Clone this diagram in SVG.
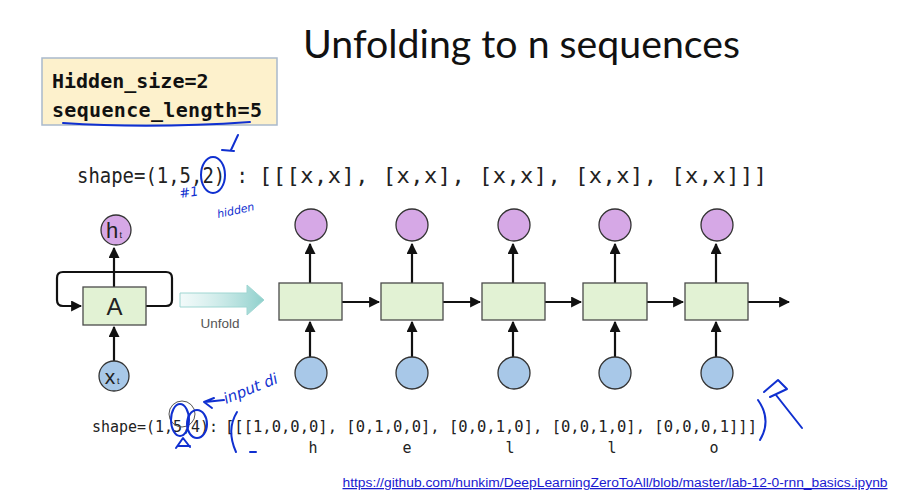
<svg xmlns="http://www.w3.org/2000/svg" width="901" height="497" viewBox="0 0 901 497">
<defs>
<style>
.box{fill:#e2f2d4;stroke:#4a4a4a;stroke-width:1.3}
.hc{fill:#d6a8e6;stroke:#333;stroke-width:1.3}
.xc{fill:#a8c8e8;stroke:#333;stroke-width:1.3}
.ln{stroke:#111;stroke-width:2.2;fill:none}
.mono{font-family:"DejaVu Sans Mono","Liberation Mono",monospace;fill:#222}
.ink{stroke:#1030d0;stroke-width:2;fill:none;stroke-linecap:round;stroke-linejoin:round}
.inkt{font-family:"DejaVu Sans","Liberation Sans",sans-serif;font-style:italic;fill:#1030d0}
</style>
<marker id="ah" viewBox="0 0 10 10" refX="9" refY="5" markerWidth="5" markerHeight="5" orient="auto"><path d="M0,0 L10,5 L0,10 z" fill="#111"/></marker>
<linearGradient id="ug" x1="0" x2="1" y1="0" y2="0"><stop offset="0" stop-color="#bfe6e4" stop-opacity="0.2"/><stop offset="1" stop-color="#8fd0cc"/></linearGradient>
</defs>
<rect width="901" height="497" fill="#fff"/>

<text x="303" y="58" font-family="Lato,'Open Sans',sans-serif" font-size="38" fill="#111" textLength="437" lengthAdjust="spacingAndGlyphs">Unfolding to n sequences</text>

<g id="params">
<rect x="42" y="58" width="235" height="67" fill="#fdf1cc" stroke="#a9b9cc" stroke-width="1.5"/>
<text x="52" y="88" font-family="'DejaVu Sans Mono',monospace" font-weight="bold" font-size="20" fill="#111">Hidden_size=2</text>
<text x="52" y="117" font-family="'DejaVu Sans Mono',monospace" font-weight="bold" font-size="20" fill="#111" textLength="210">sequence_length=5</text>
</g>

<g class="mono" font-size="22">
<text x="77" y="183" textLength="171" lengthAdjust="spacingAndGlyphs">shape=(1,5,2) :</text>
<text x="259" y="183" textLength="508" lengthAdjust="spacing">[[[x,x], [x,x], [x,x], [x,x], [x,x]]]</text>
</g>

<g id="connectors">
<line class="ln" x1="114" y1="287" x2="114" y2="248" marker-end="url(#ah)"/>
<line class="ln" x1="114" y1="361" x2="114" y2="327" marker-end="url(#ah)"/>
<path class="ln" d="M146,306 H166 Q172,306 172,300 V278 Q172,272 166,272 H63 Q57,272 57,278 V300 Q57,306 63,306 H81" marker-end="url(#ah)"/>
<line class="ln" x1="310" y1="283" x2="310" y2="244" marker-end="url(#ah)"/>
<line class="ln" x1="412" y1="283" x2="412" y2="244" marker-end="url(#ah)"/>
<line class="ln" x1="513" y1="283" x2="513" y2="244" marker-end="url(#ah)"/>
<line class="ln" x1="615" y1="283" x2="615" y2="244" marker-end="url(#ah)"/>
<line class="ln" x1="716" y1="283" x2="716" y2="244" marker-end="url(#ah)"/>
<line class="ln" x1="310" y1="357" x2="310" y2="322" marker-end="url(#ah)"/>
<line class="ln" x1="412" y1="357" x2="412" y2="322" marker-end="url(#ah)"/>
<line class="ln" x1="513" y1="357" x2="513" y2="322" marker-end="url(#ah)"/>
<line class="ln" x1="615" y1="357" x2="615" y2="322" marker-end="url(#ah)"/>
<line class="ln" x1="716" y1="357" x2="716" y2="322" marker-end="url(#ah)"/>
<line class="ln" x1="342" y1="302" x2="379" y2="302" marker-end="url(#ah)"/>
<line class="ln" x1="443" y1="302" x2="480" y2="302" marker-end="url(#ah)"/>
<line class="ln" x1="545" y1="302" x2="581" y2="302" marker-end="url(#ah)"/>
<line class="ln" x1="647" y1="302" x2="683" y2="302" marker-end="url(#ah)"/>
<line class="ln" x1="748" y1="302" x2="789" y2="302" marker-end="url(#ah)"/>
</g>

<g id="folded">
<g id="ht"><circle class="hc" cx="116" cy="230" r="15"/><text x="112" y="238" font-family="'Liberation Sans',sans-serif" font-size="22" fill="#222" text-anchor="middle">h</text><text x="119.5" y="238" font-family="'Liberation Sans',sans-serif" font-size="9" fill="#222">t</text></g>
<g id="A"><rect class="box" x="83" y="287" width="63" height="38"/><text x="114.5" y="315" font-family="'Liberation Sans',sans-serif" font-size="24" fill="#222" text-anchor="middle">A</text></g>
<g id="xt"><circle class="xc" cx="114" cy="376" r="15"/><text x="110" y="384" font-family="'Liberation Sans',sans-serif" font-size="21" fill="#222" text-anchor="middle">x</text><text x="117" y="384" font-family="'Liberation Sans',sans-serif" font-size="9" fill="#222">t</text></g>
</g>

<g id="unfold">
<path d="M180,293 H247 V285 L264,300 L247,315 V307 H180 Z" fill="url(#ug)" stroke="#9fd6d2" stroke-width="1"/>
<text x="220" y="328" text-anchor="middle" font-family="'Liberation Sans',sans-serif" font-size="13.5" fill="#555">Unfold</text>
</g>

<g id="step1"><circle class="hc" cx="311" cy="225" r="16"/><rect class="box" x="279" y="283" width="63" height="37"/><circle class="xc" cx="311" cy="373" r="16"/></g>
<g id="step2"><circle class="hc" cx="412" cy="225" r="16"/><rect class="box" x="381" y="283" width="62" height="37"/><circle class="xc" cx="412" cy="373" r="16"/></g>
<g id="step3"><circle class="hc" cx="514" cy="225" r="16"/><rect class="box" x="482" y="283" width="63" height="37"/><circle class="xc" cx="514" cy="373" r="16"/></g>
<g id="step4"><circle class="hc" cx="615" cy="225" r="16"/><rect class="box" x="583" y="283" width="64" height="37"/><circle class="xc" cx="615" cy="373" r="16"/></g>
<g id="step5"><circle class="hc" cx="717" cy="225" r="16"/><rect class="box" x="685" y="283" width="63" height="37"/><circle class="xc" cx="717" cy="373" r="16"/></g>

<g class="mono" font-size="15.5">
<text x="92" y="432" textLength="126" lengthAdjust="spacingAndGlyphs">shape=(1,5,4):</text>
<text x="225" y="432" textLength="532" lengthAdjust="spacing">[[[1,0,0,0], [0,1,0,0], [0,0,1,0], [0,0,1,0], [0,0,0,1]]]</text>
</g>
<g class="mono" font-size="15" text-anchor="middle">
<text x="313" y="453">h</text><text x="407" y="453">e</text><text x="510" y="453">l</text><text x="612" y="453">l</text><text x="714" y="453">o</text>
</g>

<text x="615" y="487" text-anchor="middle" font-family="'Liberation Sans',sans-serif" font-size="12.5" fill="#1a1ad0" text-decoration="underline" textLength="545" lengthAdjust="spacingAndGlyphs">https://github.com/hunkim/DeepLearningZeroToAll/blob/master/lab-12-0-rnn_basics.ipynb</text>

<g id="annotations">
<path class="ink" d="M63,123 Q150,129 250,122"/>
<ellipse class="ink" cx="213" cy="175" rx="12" ry="18"/>
<path class="ink" d="M238,135 L231,150 M222,150 L234,151"/>
<text class="inkt" x="180" y="198" font-size="13" transform="rotate(-8 180 198)">#1</text>
<text class="inkt" x="218" y="218" font-size="11" transform="rotate(-12 218 218)">hidden</text>
<circle cx="182" cy="414" r="13" fill="none" stroke="#555" stroke-width="1"/>
<ellipse class="ink" cx="180" cy="420" rx="9" ry="16"/>
<ellipse class="ink" cx="197" cy="424" rx="10" ry="14"/>
<path class="ink" d="M176,448 L183,438 L190,447 M178,446 L190,446"/>
<path class="ink" d="M214,398 L204,402 L212,408 M205,402 L224,400"/>
<text class="inkt" x="226" y="404" font-size="15" transform="rotate(-22 226 404)">input di</text>
<path class="ink" d="M237,412 Q226,430 236,452"/>
<path class="ink" d="M250,452 L256,452"/>
<path class="ink" d="M764,392 L778,380 L787,389 L770,397 M776,395 L802,428"/>
<path class="ink" d="M758,400 Q772,420 760,440"/>
</g>
</svg>
